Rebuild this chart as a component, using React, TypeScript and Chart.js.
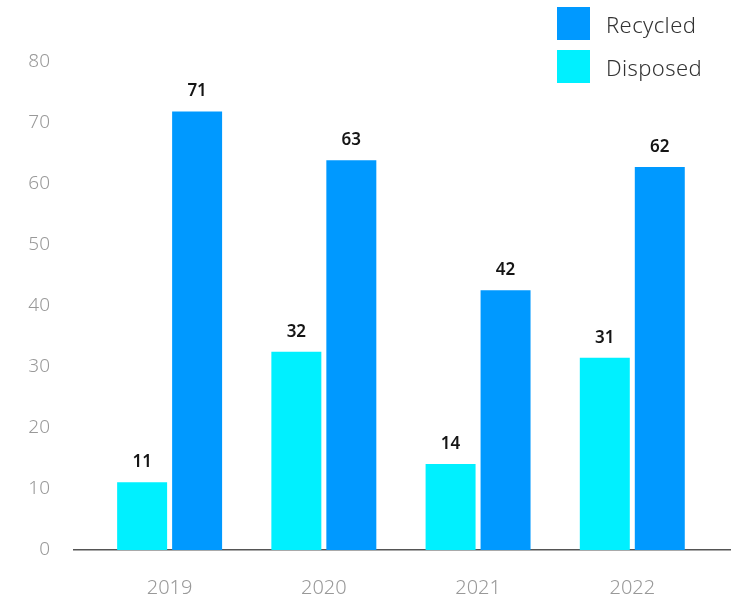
import React, { useEffect, useRef } from "react";
import { Chart, registerables } from "chart.js";

Chart.register(...registerables);

const categories = ["2019", "2020", "2021", "2022"];
const disposedValues = [11.1, 32.5, 14.1, 31.5];
const recycledValues = [71.9, 63.9, 42.6, 62.8];
const seriesNames = ["Disposed", "Recycled"];
const seriesColors = ["#00F0FF", "#0099FF"];
const yMin = 0;
const yMax = 80;
const yStep = 10;

const FONT = "'Noto Sans', 'Open Sans', sans-serif";

const valueLabelPlugin = {
  id: "valueLabels",
  afterDatasetsDraw(chart: any) {
    const ctx = chart.ctx;
    ctx.save();
    ctx.font = `600 17px ${FONT}`;
    ctx.fillStyle = "#151515";
    ctx.textAlign = "center";
    ctx.textBaseline = "alphabetic";
    chart.data.datasets.forEach((ds: any, di: number) => {
      const meta = chart.getDatasetMeta(di);
      meta.data.forEach((el: any, i: number) => {
        const v = ds.data[i].y;
        ctx.fillText(String(Math.floor(v)), el.x, el.y - 15);
      });
    });
    ctx.restore();
  },
};

export default function App() {
  const canvasRef = useRef<HTMLCanvasElement | null>(null);

  useEffect(() => {
    if (!canvasRef.current) return;
    const series = [disposedValues, recycledValues];
    const chart = new Chart(canvasRef.current, {
      type: "bar",
      data: {
        datasets: series.map((vals, si) => ({
          label: seriesNames[si],
          data: vals.map((v, i) => ({ x: i, y: v })),
          backgroundColor: seriesColors[si],
          borderWidth: 0,
          categoryPercentage: 0.713,
          barPercentage: 0.909,
        })),
      },
      options: {
        animation: false,
        responsive: true,
        maintainAspectRatio: false,
        layout: { padding: { top: 62, left: 0, right: 0, bottom: 0 } },
        plugins: {
          legend: { display: false },
          tooltip: { enabled: false },
        },
        scales: {
          x: {
            type: "linear",
            offset: false,
            min: -0.62,
            max: 3.64,
            grid: { display: false, drawTicks: false, offset: false },
            border: { display: true, color: "#555555", width: 1.5 },
            afterBuildTicks: (s: any) => {
              s.ticks = categories.map((_, i) => ({ value: i }));
            },
            afterFit: (s: any) => {
              s.height = 50;
            },
            ticks: {
              autoSkip: false,
              maxRotation: 0,
              padding: 26,
              color: "#999999",
              font: { family: FONT, size: 20, weight: "300" },
              callback: (v: any) => categories[v] ?? "",
            },
          },
          y: {
            min: yMin,
            max: yMax,
            grid: { display: false, drawTicks: false },
            border: { display: false },
            afterFit: (s: any) => {
              s.width = 74;
            },
            ticks: {
              stepSize: yStep,
              padding: 24,
              color: "#999999",
              font: { family: FONT, size: 19, weight: "300" },
            },
          },
        },
      },
      plugins: [valueLabelPlugin],
    } as any);
    return () => chart.destroy();
  }, []);

  const legendOrder = [1, 0];

  return (
    <div style={{ position: "absolute", left: 0, top: 0, width: 731, height: 600, background: "#fff" }}>
      <canvas ref={canvasRef} />
      <div style={{ position: "absolute", left: 557, top: 7, fontFamily: FONT }}>
        {legendOrder.map((si) => (
          <div key={si} style={{ display: "flex", alignItems: "center", height: 33, marginBottom: 10 }}>
            <div style={{ width: 33, height: 33, background: seriesColors[si] }} />
            <span style={{ marginLeft: 16, fontSize: 22, fontWeight: 300, color: "#333333", letterSpacing: 0.4 }}>{seriesNames[si]}</span>
          </div>
        ))}
      </div>
    </div>
  );
}
